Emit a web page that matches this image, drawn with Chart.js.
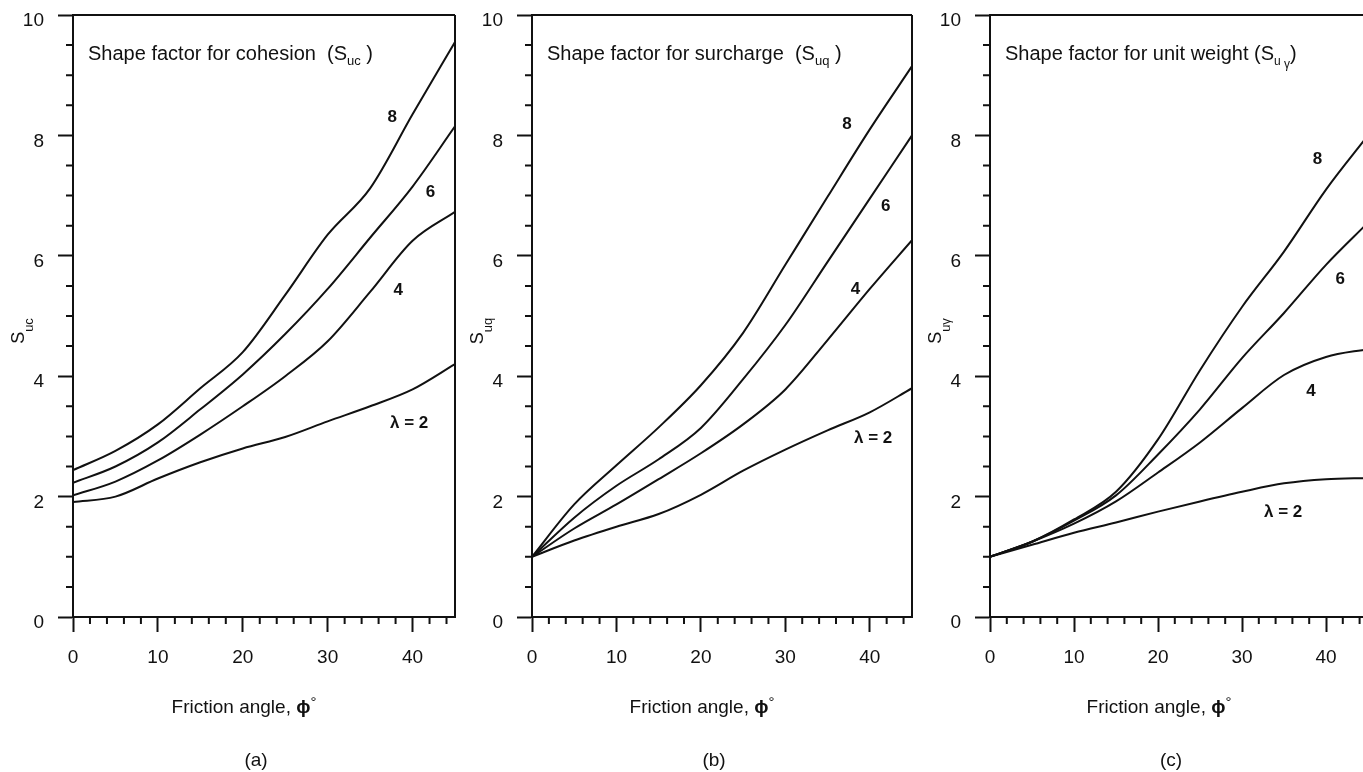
<!DOCTYPE html>
<html>
<head>
<meta charset="utf-8">
<script src="https://cdn.jsdelivr.net/npm/chart.js@4"></script>
<style>
  html, body { margin:0; padding:0; background:#fff; width:1363px; height:772px; overflow:hidden; position:relative; }
  canvas { position:absolute; top:0; }
</style>
</head>
<body>
<canvas id="chartA" width="460" height="772" style="left:0px"></canvas>
<canvas id="chartB" width="460" height="772" style="left:460px"></canvas>
<canvas id="chartC" width="460" height="772" style="left:918px"></canvas>
<script>
(function(){
  // friction angle, degrees
  const angles = [0, 5, 10, 15, 20, 25, 30, 35, 40, 45];

  // (a) shape factor for cohesion
  const cohesion2 = [1.91, 2.0, 2.3, 2.57, 2.8, 2.99, 3.25, 3.5, 3.78, 4.2];
  const cohesion4 = [2.02, 2.25, 2.6, 3.03, 3.5, 4.0, 4.58, 5.4, 6.25, 6.73];
  const cohesion6 = [2.23, 2.5, 2.9, 3.45, 4.03, 4.7, 5.45, 6.3, 7.15, 8.15];
  const cohesion8 = [2.44, 2.76, 3.2, 3.8, 4.4, 5.35, 6.35, 7.12, 8.35, 9.55];

  // (b) shape factor for surcharge
  const surcharge2 = [1.0, 1.27, 1.5, 1.71, 2.03, 2.43, 2.78, 3.1, 3.4, 3.8];
  const surcharge4 = [1.0, 1.47, 1.87, 2.29, 2.72, 3.2, 3.78, 4.6, 5.45, 6.26];
  const surcharge6 = [1.0, 1.65, 2.18, 2.62, 3.14, 3.95, 4.85, 5.9, 6.95, 8.0];
  const surcharge8 = [1.0, 1.87, 2.52, 3.15, 3.85, 4.72, 5.85, 6.98, 8.1, 9.15];

  // (c) shape factor for unit weight
  const weight2 = [1.0, 1.2, 1.4, 1.57, 1.75, 1.92, 2.08, 2.22, 2.29, 2.31];
  const weight4 = [1.0, 1.25, 1.55, 1.92, 2.4, 2.9, 3.47, 4.02, 4.32, 4.45];
  const weight6 = [1.0, 1.25, 1.6, 2.02, 2.7, 3.45, 4.3, 5.05, 5.85, 6.55];
  const weight8 = [1.0, 1.25, 1.62, 2.08, 2.95, 4.1, 5.15, 6.07, 7.1, 8.0];

  const curveNames = ['λ = 2', '4', '6', '8'];
  const xMajor = [0, 10, 20, 30, 40];
  const yMajor = [0, 2, 4, 6, 8, 10];

  const FONT = '"Liberation Sans", Arial, Helvetica, sans-serif';
  const INK = '#111';

  const panels = [
    { id:'chartA', left:0, areaLeft:73, areaRight:455,
      series:[cohesion2, cohesion4, cohesion6, cohesion8],
      tags:[[39.6,3.22],[38.3,5.43],[42.1,7.06],[37.6,8.3]],
      title:[['Shape factor for cohesion  (S',20,0],['uc',13,5],[' )',20,0]],
      ylab:[['S',18,0],['uc',13,9]], caption:'(a)' },
    { id:'chartB', left:460, areaLeft:532, areaRight:912,
      series:[surcharge2, surcharge4, surcharge6, surcharge8],
      tags:[[40.4,2.97],[38.3,5.45],[41.9,6.83],[37.3,8.19]],
      title:[['Shape factor for surcharge  (S',20,0],['uq',13,5],[' )',20,0]],
      ylab:[['S',18,0],['uq',13,9]], caption:'(b)' },
    { id:'chartC', left:918, areaLeft:990, areaRight:1368,
      series:[weight2, weight4, weight6, weight8],
      tags:[[34.9,1.74],[38.2,3.75],[41.7,5.61],[39.0,7.6]],
      title:[['Shape factor for unit weight (S',20,0],['u',12,5],[' ',12,5],['γ',12,8],[')',20,0]],
      ylab:[['S',18,0],['uγ',13,9]], caption:'(c)' }
  ];

  function drawRich(ctx, x, y, segs, align){
    let w = 0;
    segs.forEach(s=>{ ctx.font = (s[3]||'') + ' ' + s[1] + 'px ' + FONT; w += ctx.measureText(s[0]).width; });
    let cx = align === 'center' ? x - w/2 : x;
    ctx.textAlign = 'left';
    ctx.textBaseline = 'alphabetic';
    segs.forEach(s=>{
      ctx.font = (s[3]||'') + ' ' + s[1] + 'px ' + FONT;
      ctx.fillText(s[0], cx, y + (s[2]||0));
      cx += ctx.measureText(s[0]).width;
    });
  }

  // frame, minor ticks and all the text that is not a tick label
  const decor = {
    id:'decor',
    afterDraw(chart, args, opts){
      const p = opts.panel;
      const ctx = chart.ctx;
      const a = chart.chartArea;
      const xs = chart.scales.x, ys = chart.scales.y;
      ctx.save();
      ctx.strokeStyle = INK;
      ctx.fillStyle = INK;
      ctx.lineWidth = 2;
      ctx.beginPath();
      ctx.moveTo(a.left, a.top); ctx.lineTo(a.right, a.top);
      ctx.moveTo(a.right, a.top); ctx.lineTo(a.right, a.bottom);
      // minor ticks
      for(let v = 2; v < 45; v += 2){
        if(v % 10 === 0) continue;
        const px = xs.getPixelForValue(v);
        ctx.moveTo(px, a.bottom); ctx.lineTo(px, a.bottom + 7);
      }
      for(let v = 0.5; v < 10; v += 0.5){
        if(v % 2 === 0) continue;
        const py = ys.getPixelForValue(v);
        ctx.moveTo(a.left, py); ctx.lineTo(a.left - 7, py);
      }
      ctx.stroke();

      // curve labels
      ctx.font = 'bold 17px ' + FONT;
      ctx.textAlign = 'center';
      ctx.textBaseline = 'middle';
      p.tags.forEach((t, i)=>{
        ctx.fillText(curveNames[i], xs.getPixelForValue(t[0]), ys.getPixelForValue(t[1]));
      });

      // title inside the plot
      drawRich(ctx, a.left + 15, a.top + 45, p.title, 'left');

      // y axis title, rotated
      ctx.save();
      ctx.translate(a.left - 49, 331);
      ctx.rotate(-Math.PI/2);
      drawRich(ctx, 0, 0, p.ylab, 'center');
      ctx.restore();

      const mid = (p.areaLeft + p.areaRight)/2 - p.left;
      drawRich(ctx, mid - 20, 713, [['Friction angle, ',19,0],['ϕ',19,0,'bold'],['°',15,-6]], 'center');
      drawRich(ctx, mid - 8, 766, [[p.caption,19,0]], 'center');
      ctx.restore();
    }
  };

  panels.forEach(p=>{
    const ctx = document.getElementById(p.id).getContext('2d');
    const datasets = p.series.map(vals=>({
      data: angles.map((x, i)=>({ x, y: vals[i] })),
      borderColor: INK,
      borderWidth: 2,
      pointRadius: 0,
      fill: false,
      cubicInterpolationMode: 'monotone'
    }));
    new Chart(ctx, {
      type: 'line',
      data: { datasets },
      plugins: [decor],
      options: {
        responsive: false,
        animation: false,
        layout: { padding: { left: p.areaLeft - p.left - 55, right: p.left + 460 - p.areaRight, top: 15, bottom: 105 } },
        plugins: { legend: { display:false }, tooltip: { enabled:false }, decor: { panel: p } },
        scales: {
          x: {
            type: 'linear', min: 0, max: 45,
            afterBuildTicks: (s)=>{ s.ticks = xMajor.map(v=>({ value: v })); },
            afterFit: (s)=>{ s.height = 50; s.paddingLeft = 0; s.paddingRight = 0; },
            ticks: { color: INK, padding: 14, maxRotation: 0, font: { family: FONT, size: 19 } },
            grid: { drawOnChartArea: false, tickLength: 15, tickWidth: 2, tickColor: INK },
            border: { display: true, color: INK, width: 2 }
          },
          y: {
            type: 'linear', min: 0, max: 10,
            afterBuildTicks: (s)=>{ s.ticks = yMajor.map(v=>({ value: v })); },
            afterFit: (s)=>{ s.width = 55; s.paddingTop = 0; s.paddingBottom = 0; },
            ticks: { color: INK, padding: 14, labelOffset: 6, font: { family: FONT, size: 19 } },
            grid: { drawOnChartArea: false, tickLength: 15, tickWidth: 2, tickColor: INK },
            border: { display: true, color: INK, width: 2 }
          }
        }
      }
    });
  });
})();
</script>
</body>
</html>
